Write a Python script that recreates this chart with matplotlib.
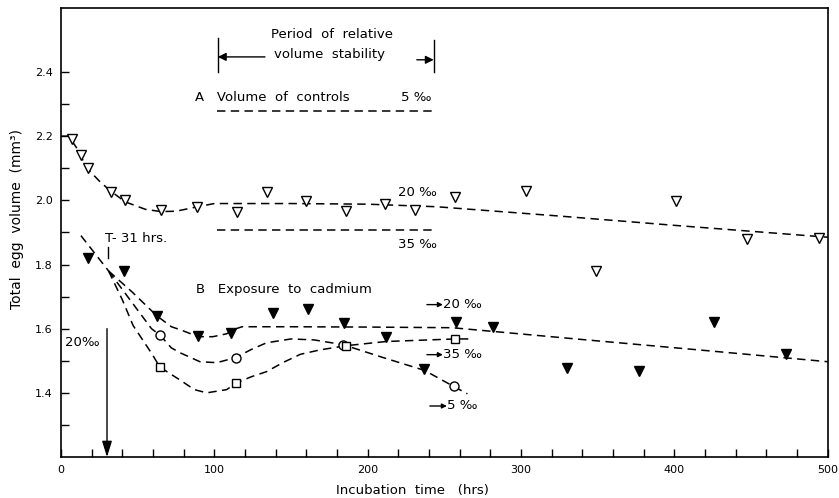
import matplotlib
matplotlib.use('Agg')
import matplotlib.pyplot as plt

# measured points: controls at 20 per mille
ctrl20_t = [7, 13, 17.6, 32.6, 42, 65, 89, 115, 134, 160, 186, 211, 231, 257, 303, 349, 401, 447, 494]
ctrl20_v = [2.19, 2.14, 2.10, 2.025, 2.0, 1.97, 1.98, 1.965, 2.025, 1.997, 1.966, 1.99, 1.97, 2.01, 2.03, 1.78, 1.997, 1.88, 1.884]

# cadmium exposure, 20 / 5 / 35 per mille
cd20_t = [17.6, 41, 62.5, 89.5, 111, 138, 161, 184.5, 212, 237, 257.5, 282, 330, 377, 425.6, 472.6]
cd20_v = [1.82, 1.78, 1.64, 1.578, 1.588, 1.65, 1.66, 1.618, 1.575, 1.475, 1.62, 1.606, 1.478, 1.467, 1.62, 1.52]
cd5_t = [64.5, 114, 184, 256]
cd5_v = [1.58, 1.51, 1.55, 1.42]
cd35_t = [64.5, 114, 186, 257]
cd35_v = [1.48, 1.43, 1.547, 1.568]

# hand drawn fit curves
fit_ctrl_t = [0, 5, 10, 17, 25, 32, 42, 55, 65, 75, 89, 100, 150, 200, 245, 325, 400, 500]
fit_ctrl_v = [2.2, 2.2, 2.165, 2.10, 2.06, 2.03, 1.995, 1.972, 1.965, 1.966, 1.98, 1.99, 1.99, 1.988, 1.98, 1.951, 1.922, 1.885]
fit_lead_t = [13, 31]
fit_lead_v = [1.89, 1.78]
fit_cd20_t = [31, 46, 62.5, 72, 77.6, 89.5, 99, 108, 113, 118, 150, 200, 255, 338, 420, 500]
fit_cd20_v = [1.78, 1.716, 1.64, 1.606, 1.597, 1.575, 1.575, 1.584, 1.598, 1.606, 1.606, 1.605, 1.603, 1.567, 1.532, 1.497]
fit_cd5_t = [31, 45, 59, 64.5, 72, 77.6, 90.6, 101.6, 114, 124, 134, 150, 165, 184, 210, 237, 256, 265]
fit_cd5_v = [1.78, 1.69, 1.60, 1.58, 1.54, 1.525, 1.497, 1.494, 1.51, 1.535, 1.556, 1.568, 1.565, 1.55, 1.51, 1.47, 1.42, 1.397]
fit_cd35_t = [31, 40, 47, 59.5, 64.5, 77.6, 87, 95, 108, 114, 124, 134, 145, 156, 169, 186, 212, 257, 267]
fit_cd35_v = [1.78, 1.69, 1.61, 1.52, 1.48, 1.44, 1.41, 1.40, 1.41, 1.43, 1.45, 1.466, 1.495, 1.52, 1.534, 1.547, 1.56, 1.568, 1.568]

# period of stability controls
stab_t = [102, 244]
ctrl5_level = [2.278, 2.278]
ctrl35_level = [1.909, 1.909]

fig = plt.figure(figsize=(8.39, 4.98), dpi=100)
ax = fig.add_axes([0.0727, 0.0823, 0.914, 0.902])

dash = dict(color='k', lw=1.1, ls=(0, (5.5, 3.5)), zorder=2)
ax.plot(fit_ctrl_t, fit_ctrl_v, **dash)
ax.plot(fit_lead_t, fit_lead_v, **dash)
ax.plot(fit_cd20_t, fit_cd20_v, **dash)
ax.plot(fit_cd5_t, fit_cd5_v, **dash)
ax.plot(fit_cd35_t, fit_cd35_v, **dash)
ax.plot(stab_t, ctrl5_level, **dash)
ax.plot(stab_t, ctrl35_level, **dash)

ax.plot(ctrl20_t, ctrl20_v, 'v', ms=7, mfc='white', mec='k', mew=1, ls='none', zorder=3)
ax.plot(cd20_t, cd20_v, 'v', ms=7.5, mfc='k', mec='k', ls='none', zorder=3)
ax.plot(cd5_t, cd5_v, 'o', ms=6.5, mfc='white', mec='k', mew=1, ls='none', zorder=3)
ax.plot(cd35_t, cd35_v, 's', ms=6, mfc='white', mec='k', mew=1, ls='none', zorder=3)

ax.set_xlim(0, 500)
ax.set_ylim(1.2, 2.6)
ax.set_xticks(range(0, 501, 100))
ax.set_xticks(range(0, 501, 20), minor=True)
ax.set_yticks([1.4, 1.6, 1.8, 2.0, 2.2, 2.4])
ax.set_yticklabels(['1.4', '1.6', '1.8', '2.0', '2.2', '2.4'])
ax.set_yticks([1.3, 1.5, 1.7, 1.9, 2.1, 2.3], minor=True)
ax.tick_params(which='both', direction='in', length=6, width=1, labelsize=8, pad=6)
for s in ax.spines.values():
    s.set_linewidth(1.2)

fig.text(17 / 839, 1 - 219 / 498, 'Total  egg  volume  (mm³)', rotation=90,
         ha='center', va='center', fontsize=10)
fig.text(412 / 839, 1 - 490 / 498, 'Incubation  time   (hrs)', ha='center', va='center', fontsize=9.5)

txt = dict(fontsize=9.5, color='k', va='center')
ax.text(177, 2.516, 'Period  of  relative', ha='center', **txt)
ax.text(175, 2.453, 'volume  stability', ha='center', **txt)
ax.text(87.4, 2.319, 'A   Volume  of  controls', ha='left', **txt)
ax.text(222, 2.319, '5 ‰', ha='left', **txt)
ax.text(220, 2.025, '20 ‰', ha='left', **txt)
ax.text(219.7, 1.8625, '35 ‰', ha='left', **txt)
ax.text(28.7, 1.881, 'T- 31 hrs.', ha='left', **txt)
ax.text(88, 1.722, 'B   Exposure  to  cadmium', ha='left', **txt)
ax.text(249, 1.675, '20 ‰', ha='left', **txt)
ax.text(249, 1.519, '35 ‰', ha='left', **txt)
ax.text(251.6, 1.359, '5 ‰', ha='left', **txt)
ax.text(2.6, 1.556, '20‰', ha='left', **txt)

arr = dict(arrowstyle='-|>', color='k', lw=1, mutation_scale=12, shrinkA=0, shrinkB=0)
ax.annotate('', xy=(102.3, 2.447), xytext=(133, 2.447), arrowprops=arr)
ax.annotate('', xy=(243, 2.438), xytext=(232, 2.438), arrowprops=arr)
ax.plot([102.3, 102.3], [2.40, 2.506], color='k', lw=1)
ax.plot([243, 243], [2.40, 2.50], color='k', lw=1)
ax.annotate('', xy=(249, 1.675), xytext=(238.6, 1.675), arrowprops=dict(arr, mutation_scale=7))
ax.annotate('', xy=(249, 1.519), xytext=(238.6, 1.519), arrowprops=dict(arr, mutation_scale=7))
ax.annotate('', xy=(251.6, 1.359), xytext=(240.5, 1.359), arrowprops=dict(arr, mutation_scale=7))
ax.annotate('', xy=(30, 1.2), xytext=(30, 1.6),
            arrowprops=dict(arrowstyle='-|>,head_length=0.8,head_width=0.25', color='k', lw=1,
                            mutation_scale=12, shrinkA=0, shrinkB=0))
ax.plot([30.6, 30.6], [1.82, 1.855], color='k', lw=1)

fig.savefig('out.png', dpi=100)
